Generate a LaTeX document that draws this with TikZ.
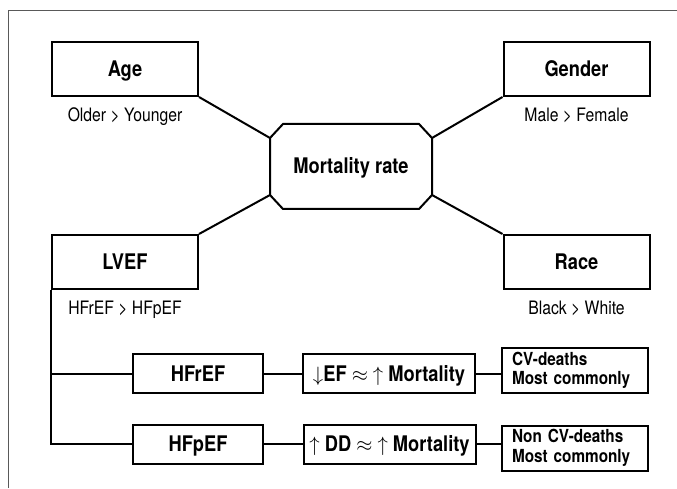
\documentclass[tikz,border=0pt]{standalone}
\usepackage{fontspec}
\setmainfont{TeX Gyre Heros}[FakeStretch=0.85]
\usepackage{amssymb}
\usepackage{amsmath}
\usetikzlibrary{positioning,calc}

\begin{document}
\begin{tikzpicture}[x=1pt,y=1pt,line width=2pt,line join=miter,
                    node distance=11pt]
  \tikzstyle{factor}=[draw,rectangle,minimum width=146pt,minimum height=54pt,
                      inner sep=0pt,text height=15pt,text depth=0pt,
                      font=\fontsize{21.5}{24}\selectfont\bfseries]
  \tikzstyle{note}=[inner sep=0pt,text height=13.3pt,text depth=0pt,
                    font=\fontsize{18.5}{20}\selectfont]
  \tikzstyle{kind}=[draw,rectangle,minimum height=39pt,inner sep=0pt,
                    text height=15pt,text depth=0pt,
                    font=\fontsize{21.5}{24}\selectfont\bfseries]
  \tikzstyle{death}=[draw,rectangle,minimum height=45pt,text width=126pt,
                     inner xsep=10pt,inner ysep=0pt,align=left,
                     font=\fontsize{18}{19.5}\selectfont\bfseries]

  \useasboundingbox (0,0) rectangle (677,488);
  \draw[gray!70!black,line width=1.2pt] (8.5,0) -- (8.5,477.5) -- (677,477.5);

  \node[factor]  (AGE)    at (125,419)   {Age};
  \node[factor]  (GENDER) at (576.5,419) {Gender};
  \node[factor]  (LVEF)   at (125,226)   {LVEF};
  \node[factor]  (RACE)   at (576.5,226) {Race};
  \node[factor,draw=none,minimum width=160pt,minimum height=83pt]
                 (MORT)   at (351,321.5) {Mortality rate};

  \node[note] (AGEN)    [below=10pt of AGE]    {Older > Younger};
  \node[note] (GENDERN) [below=10pt of GENDER] {Male > Female};
  \node[note] (LVEFN)   [below=10pt of LVEF]   {HFrEF > HFpEF};
  \node[note] (RACEN)   [below=10pt of RACE]   {Black > White};

  \node[kind,minimum width=130pt] (HFR) at (198,114.5) {HFrEF};
  \node[kind,minimum width=130pt] (HFP) at (198,44)    {HFpEF};
  \node[kind,minimum width=172pt] (EF)  at (389,114.5)
        {$\downarrow$EF $\approx$ $\uparrow$ Mortality};
  \node[kind,minimum width=172pt] (DD)  at (389.5,44)
        {$\uparrow$ DD $\approx$ $\uparrow$ Mortality};
  \node[death] (CV)    at (575,117.5) {CV-deaths\\Most commonly};
  \node[death] (NONCV) at (575,40)    {Non CV-deaths\\Most commonly};

  \coordinate (MORTNW) at ($(MORT.north west)+(0,-14)$);
  \coordinate (MORTNE) at ($(MORT.north east)+(0,-14)$);
  \coordinate (MORTSW) at ($(MORT.south west)+(0,14)$);
  \coordinate (MORTSE) at ($(MORT.south east)+(0,14)$);
  \draw ($(MORT.north west)+(13,0)$) -- ($(MORT.north east)+(-13,0)$)
        -- (MORTNE) -- (MORTSE) -- ($(MORT.south east)+(-13,0)$)
        -- ($(MORT.south west)+(13,0)$) -- (MORTSW) -- (MORTNW) -- cycle;

  \draw (AGE.south east)    -- (MORTNW);
  \draw (GENDER.south west) -- (MORTNE);
  \draw (LVEF.north east)   -- (MORTSW);
  \draw (RACE.north west)   -- (MORTSE);

  \draw (LVEF.south west) |- (HFP.west);
  \draw (LVEF.south west |- HFR.west) -- (HFR.west);
  \draw (HFR.east) -- (EF.west);
  \draw (HFP.east) -- (DD.west);
  \draw (EF.east) -- (EF.east -| CV.west);
  \draw (DD.east) -- (DD.east -| NONCV.west);
\end{tikzpicture}
\end{document}
